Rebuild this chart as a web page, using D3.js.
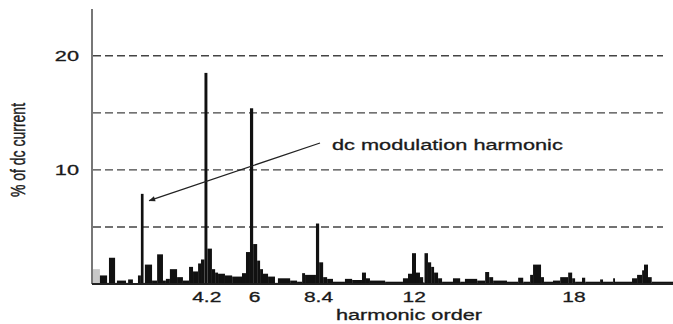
<!DOCTYPE html>
<html>
<head>
<meta charset="utf-8">
<script src="https://cdn.jsdelivr.net/npm/d3@7"></script>
<style>
  html, body { margin: 0; padding: 0; background: #fff; }
  svg { display: block; font-family: 'Liberation Sans', Arial, sans-serif; }
</style>
</head>
<body>
<svg id="chart" width="673" height="324"></svg>
<script>
// spectrum: each bin starts at binStart (harmonic order)
// and runs to the next start; binPct is the height in % of dc current
const binStart = [0.00, 0.26, 0.53, 0.60, 0.83, 0.90, 1.24, 1.32, 1.50, 1.69,
  1.80, 1.90, 1.95, 2.22, 2.41, 2.63, 2.74, 2.89, 3.16, 3.38,
  3.61, 3.76, 3.95, 4.06, 4.19, 4.30, 4.47, 4.59, 4.70, 4.96,
  5.23, 5.60, 5.75, 5.90, 6.02, 6.17, 6.28, 6.39, 6.58, 6.84,
  6.95, 7.41, 7.67, 7.86, 7.97, 8.38, 8.50, 8.65, 8.80, 9.02,
  9.47, 9.74, 10.11, 10.26, 10.41, 10.98, 11.65, 11.84, 11.99, 12.14,
  12.29, 12.41, 12.46, 12.59, 12.71, 12.82, 12.97, 13.12, 13.53, 13.80,
  13.98, 14.44, 14.74, 14.89, 15.04, 15.56, 15.98, 16.17, 16.43, 16.54,
  16.84, 16.95, 17.29, 17.56, 17.86, 18.01, 18.12, 18.38, 18.50, 19.06,
  19.17, 19.55, 19.62, 20.26, 20.45, 20.64, 20.71, 20.86, 21.00]
const binPct = [1.3, 0.75, 0.1, 2.3, 0.1, 0.3, 0.1, 0.4, 0.05, 0.75,
  7.9, 0.1, 1.7, 0.3, 2.6, 0.3, 0.45, 1.3, 0.6, 0.3,
  1.5, 1.1, 1.8, 2.15, 18.5, 3.1, 1.3, 1.0, 0.9, 0.75,
  0.65, 0.95, 2.8, 15.4, 3.5, 2.05, 1.3, 0.9, 0.65, 0.1,
  0.5, 0.3, 0.2, 0.95, 0.8, 5.3, 1.9, 0.6, 0.45, 0.2,
  0.45, 0.35, 1.0, 0.5, 0.3, 0.2, 0.5, 0.9, 2.7, 1.0,
  0.6, 0.15, 2.7, 1.9, 1.5, 1.0, 0.5, 0.2, 0.5, 0.2,
  0.45, 0.3, 1.05, 0.6, 0.3, 0.2, 0.55, 0.2, 0.8, 1.7,
  0.6, 0.2, 0.3, 0.6, 1.0, 0.5, 0.2, 0.55, 0.2, 0.4,
  0.2, 0.5, 0.2, 0.5, 0.8, 1.2, 1.7, 0.6, 0.2]
const maxOrder = 21.8
const xTicks = [4.2, 6, 8.4, 12, 18]
const yTicks = [10, 20]
const gridLevels = [5, 10, 15, 20]
const dcHarmonic = { order: 1.85, pct: 7.9, label: 'dc modulation harmonic' }

// the source picture is stretched sideways, so text is too
const stretch = 1.45

const svg = d3.select('#chart')
const margin = { top: 9, right: 0, bottom: 40, left: 93 }
const width = 673 - margin.left - margin.right
const height = 324 - margin.top - margin.bottom

const x = d3.scaleLinear().domain([0, maxOrder]).range([margin.left, margin.left + width])
const y = d3.scaleLinear().domain([0, 24.1]).range([margin.top + height, margin.top])

const bins = binStart.map((s, i) => ({
  start: s,
  end: i < binStart.length - 1 ? binStart[i + 1] : maxOrder,
  pct: binPct[i]
}))

// dashed grid
svg.append('g')
  .selectAll('line')
  .data(gridLevels)
  .enter().append('line')
  .attr('x1', x(0))
  .attr('x2', 663)
  .attr('y1', d => y(d))
  .attr('y2', d => y(d))
  .attr('stroke', '#444')
  .attr('stroke-width', 1.4)
  .attr('stroke-dasharray', '8,4')

// spectrum (the bin hugging the axis prints faint in the source)
svg.append('g')
  .selectAll('rect')
  .data(bins)
  .enter().append('rect')
  .attr('x', d => x(d.start))
  .attr('width', d => Math.max(0.5, x(d.end) - x(d.start)))
  .attr('y', d => y(d.pct))
  .attr('height', d => y(0) - y(d.pct))
  .attr('fill', d => d.start === 0 ? '#c8c8c8' : '#111')

// axes lines
svg.append('line')
  .attr('x1', x(0) - 1).attr('x2', x(0) - 1)
  .attr('y1', y(24.1)).attr('y2', y(0))
  .attr('stroke', '#555').attr('stroke-width', 1.6)

svg.append('line')
  .attr('x1', x(0) - 1).attr('x2', x(maxOrder))
  .attr('y1', y(0)).attr('y2', y(0))
  .attr('stroke', '#222').attr('stroke-width', 1.8)

function label(g, text, px, py, size, anchor) {
  return g.append('text')
    .attr('transform', `translate(${px},${py}) scale(${stretch},1)`)
    .attr('text-anchor', anchor)
    .attr('font-size', size)
    .attr('fill', '#1a1a1a')
    .attr('stroke', '#1a1a1a')
    .attr('stroke-width', 0.3)
    .text(text)
}

const ticks = svg.append('g')
yTicks.forEach(t => label(ticks, t, 79, y(t) + 5.5, 15, 'end'))
xTicks.forEach(t => label(ticks, t, x(t) + 2, 302, 14.5, 'middle'))

label(svg, 'harmonic order', 409, 320, 15, 'middle')

svg.append('text')
  .attr('transform', `translate(25,150) rotate(-90) scale(1,${stretch})`)
  .attr('text-anchor', 'middle')
  .attr('font-size', 14)
  .attr('fill', '#1a1a1a')
  .attr('stroke', '#1a1a1a')
  .attr('stroke-width', 0.3)
  .text('% of dc current')

// annotation arrow
svg.append('defs').append('marker')
  .attr('id', 'head')
  .attr('viewBox', '0 0 10 10')
  .attr('refX', 9).attr('refY', 5)
  .attr('markerWidth', 8).attr('markerHeight', 5)
  .attr('orient', 'auto')
  .append('path')
  .attr('d', 'M0,1L10,5L0,9Z')
  .attr('fill', '#222')

svg.append('line')
  .attr('x1', 320).attr('y1', 143)
  .attr('x2', x(dcHarmonic.order) + 7).attr('y2', y(dcHarmonic.pct - 0.6))
  .attr('stroke', '#222').attr('stroke-width', 1.3)
  .attr('marker-end', 'url(#head)')

label(svg, dcHarmonic.label, 332, 150, 15, 'start')
</script>
</body>
</html>
